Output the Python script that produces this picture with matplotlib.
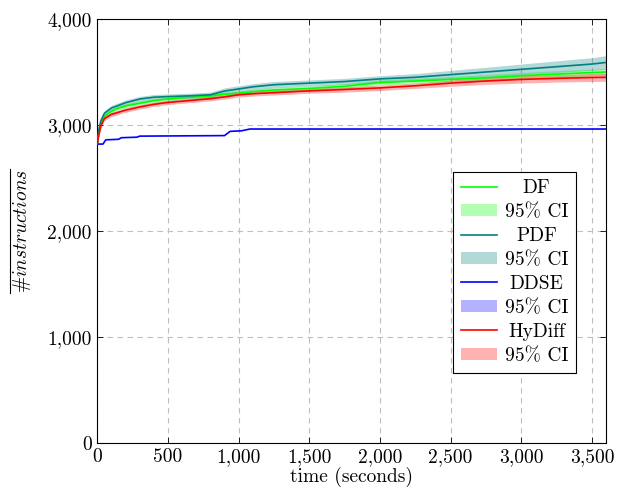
import numpy as np
import matplotlib
matplotlib.use("Agg")
import matplotlib.pyplot as plt
from matplotlib.lines import Line2D
from matplotlib.ticker import FuncFormatter, MultipleLocator

plt.rcParams['font.family'] = 'serif'
plt.rcParams['font.serif'] = ['cmr10', 'DejaVu Serif']
plt.rcParams['mathtext.fontset'] = 'cm'
plt.rcParams['axes.formatter.use_mathtext'] = True
plt.rcParams['font.size'] = 14

# sampled time points (seconds)
t = [0, 10, 25, 50, 100, 150, 200, 300, 400, 500, 650, 800, 900, 1000, 1100,
     1250, 1500, 1750, 2000, 2250, 2500, 2750, 3000, 3250, 3500, 3600]

# mean #instructions per tool
pdf_mean = [2820, 2950, 3040, 3110, 3160, 3185, 3210, 3245, 3262, 3268, 3275, 3285, 3320,
            3340, 3360, 3380, 3395, 3410, 3435, 3450, 3475, 3500, 3525, 3550, 3575, 3590]
df_mean = [2820, 2920, 3010, 3080, 3130, 3160, 3180, 3205, 3230, 3245, 3262, 3275, 3290,
           3300, 3315, 3330, 3345, 3365, 3400, 3415, 3430, 3445, 3465, 3480, 3495, 3500]
hd_mean = [2820, 2900, 2990, 3060, 3100, 3120, 3140, 3170, 3195, 3213, 3230, 3248, 3265,
           3285, 3295, 3305, 3322, 3335, 3350, 3370, 3395, 3415, 3430, 3440, 3448, 3450]

# half width of the 95% confidence intervals
pdf_ci = [0, 20, 25, 25, 25, 25, 25, 25, 25, 25, 25, 25, 30, 30, 30, 30, 30, 30, 30, 35,
          40, 45, 50, 55, 60, 65]
df_ci = [0, 15, 20, 20, 20, 20, 20, 20, 20, 20, 20, 20, 20, 22, 22, 22, 22, 25, 25, 25,
         28, 30, 30, 32, 32, 32]
hd_ci = [0, 15, 20, 20, 20, 20, 20, 20, 20, 20, 20, 20, 20, 22, 22, 22, 22, 25, 25, 25,
         30, 32, 35, 35, 38, 38]

# DDSE is a step curve with its own time points
ddse_t = [0, 40, 60, 150, 170, 280, 300, 900, 940, 1020, 1080, 3600]
ddse_mean = [2820, 2820, 2860, 2865, 2880, 2885, 2895, 2900, 2940, 2945, 2962, 2962]
ddse_ci = [0, 0, 0, 0, 0, 0, 0, 0, 0, 0, 0, 0]

series = [
    ("DF", t, df_mean, df_ci, "#00ff00"),
    ("PDF", t, pdf_mean, pdf_ci, "#008080"),
    ("DDSE", ddse_t, ddse_mean, ddse_ci, "#0000ff"),
    ("HyDiff", t, hd_mean, hd_ci, "#ff0000"),
]

fig = plt.figure(figsize=(6.17, 4.91), dpi=100)
ax = fig.add_axes([0.1577, 0.0978, 0.8245, 0.8635])

handles = []
for name, x, m, ci, col in series:
    x = np.array(x)
    m = np.array(m)
    ci = np.array(ci)
    ln, = ax.plot(x, m, color=col, lw=1.2, zorder=3, label=name)
    band = ax.fill_between(x, m - ci, m + ci, color=col, alpha=0.3, lw=0,
                           zorder=2, label="95% CI")
    handles += [ln, band]

ax.set_xlim(0, 3600)
ax.set_ylim(0, 4000)
ax.xaxis.set_major_locator(MultipleLocator(500))
ax.yaxis.set_major_locator(MultipleLocator(1000))
comma = FuncFormatter(lambda v, p: f"{int(v):,}")
ax.xaxis.set_major_formatter(comma)
ax.yaxis.set_major_formatter(comma)
ax.tick_params(direction='in', top=True, right=True, length=4, width=0.6, pad=4)
ax.grid(True, color='#bfbfbf', ls=(0, (5, 4)), lw=0.8)
for s in ax.spines.values():
    s.set_linewidth(0.8)

ax.set_xlabel("time (seconds)", labelpad=0)
ylab = ax.set_ylabel(r"#$instructions$", labelpad=10)

leg = ax.legend(handles=handles, loc='center', bbox_to_anchor=(0.820, 0.403),
                fancybox=False, edgecolor='black', framealpha=1, handlelength=1.85,
                handleheight=0.6, handletextpad=0.4, labelspacing=0.31,
                borderpad=0.4)
leg.get_frame().set_linewidth(0.8)

fig.canvas.draw()

# centre the legend labels in their column
widths = [txt.get_window_extent().width for txt in leg.get_texts()]
for txt, w in zip(leg.get_texts(), widths):
    txt.set_x((max(widths) - w) / 2)

# overline over the rotated y label (its top faces left)
bb = ylab.get_window_extent().transformed(fig.transFigure.inverted())
xo = bb.x0 - 1.5 / fig.bbox.width
fig.add_artist(Line2D([xo, xo], [bb.y0, bb.y1], color='black', lw=0.8,
                      transform=fig.transFigure))

fig.savefig("out.png", dpi=100)
